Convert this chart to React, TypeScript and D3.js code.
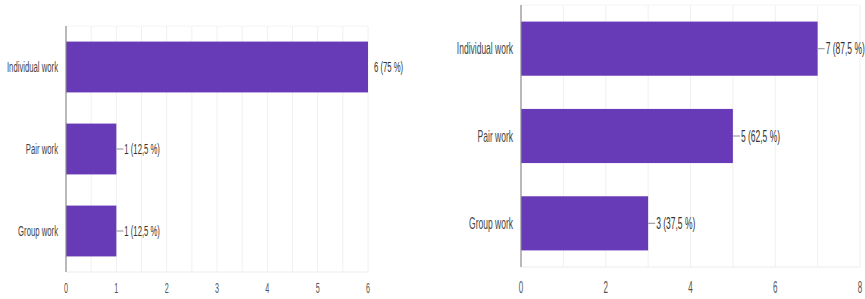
import * as d3 from "d3";
import * as React from "react";

const categories = ["Individual work", "Pair work", "Group work"];

const countsLeft = [6, 1, 1];
const percentLeft = ["75", "12,5", "12,5"];
const ticksLeft = [0, 1, 2, 3, 4, 5, 6];

const countsRight = [7, 5, 3];
const percentRight = ["87,5", "62,5", "37,5"];
const ticksRight = [0, 2, 4, 6, 8];

const FONT = "'Liberation Sans', Arial, sans-serif";
const PURPLE = "#673ab7";

type PanelProps = {
  counts: number[];
  percents: string[];
  ticks: number[];
  gridStep: number;
  x0: number;
  x1: number;
  yTop: number;
  yBottom: number;
  fontSize: number;
  tickSize: number;
  squeeze: number;
};

function Panel(props: PanelProps) {
  const { counts, percents, ticks, gridStep, x0, x1, yTop, yBottom, fontSize, tickSize, squeeze } = props;
  const maxV = ticks[ticks.length - 1];
  const x = d3.scaleLinear().domain([0, maxV]).range([x0, x1]);
  const y = d3
    .scaleBand<string>()
    .domain(categories)
    .range([yTop, yBottom])
    .paddingInner(0.38)
    .paddingOuter(0.19);

  const grid = d3.range(gridStep, maxV + gridStep / 2, gridStep);

  const squeezed = (tx: number, ty: number) => `translate(${tx},${ty}) scale(${squeeze},1)`;

  return (
    <g>
      {grid.map((g) => (
        <line key={"g" + g} x1={x(g)} x2={x(g)} y1={yTop} y2={yBottom} stroke="#f0f0f0" strokeWidth={1} />
      ))}
      <line x1={x0} x2={x1} y1={yTop} y2={yTop} stroke="#f4f4f4" />
      <line x1={x0} x2={x1} y1={yBottom} y2={yBottom} stroke="#ececec" />

      {categories.map((c, i) => {
        const by = y(c)!;
        const bh = y.bandwidth();
        const cy = by + bh / 2;
        const end = x(counts[i]);
        const hasLeader = counts[i] < maxV;
        const labelX = hasLeader ? end + 8 : end + 6;
        return (
          <g key={c}>
            <rect x={x0} y={by} width={end - x0} height={bh} fill={PURPLE} />
            {hasLeader && <line x1={end} x2={end + 7} y1={cy} y2={cy} stroke="#9e9e9e" strokeWidth={1.2} />}
            <text
              transform={squeezed(labelX, cy)}
              fontSize={fontSize}
              fontFamily={FONT}
              fill="#333"
              dominantBaseline="central"
            >
              {`${counts[i]} (${percents[i]} %)`}
            </text>
            <text
              transform={squeezed(x0 - 8, cy)}
              fontSize={fontSize}
              fontFamily={FONT}
              fill="#444"
              textAnchor="end"
              dominantBaseline="central"
            >
              {c}
            </text>
          </g>
        );
      })}

      <line x1={x0} x2={x0} y1={yTop} y2={yBottom} stroke="#8a8a8a" strokeWidth={1.2} />

      {ticks.map((t) => (
        <text
          key={"t" + t}
          transform={squeezed(x(t), 288)}
          fontSize={tickSize}
          fontFamily={FONT}
          fill="#555"
          textAnchor="middle"
          dominantBaseline="central"
        >
          {t}
        </text>
      ))}
    </g>
  );
}

export default function App() {
  return (
    <div style={{ position: "absolute", left: 0, top: 0, width: 865, height: 299, background: "#fff" }}>
      <svg width={865} height={299} style={{ display: "block" }}>
        <rect width={865} height={299} fill="#fff" />
        <Panel
          counts={countsLeft}
          percents={percentLeft}
          ticks={ticksLeft}
          gridStep={0.5}
          x0={66}
          x1={368}
          yTop={26}
          yBottom={272}
          fontSize={15}
          tickSize={14}
          squeeze={0.515}
        />
        <Panel
          counts={countsRight}
          percents={percentRight}
          ticks={ticksRight}
          gridStep={1}
          x0={521}
          x1={860}
          yTop={5}
          yBottom={267}
          fontSize={17}
          tickSize={16}
          squeeze={0.5}
        />
      </svg>
    </div>
  );
}
